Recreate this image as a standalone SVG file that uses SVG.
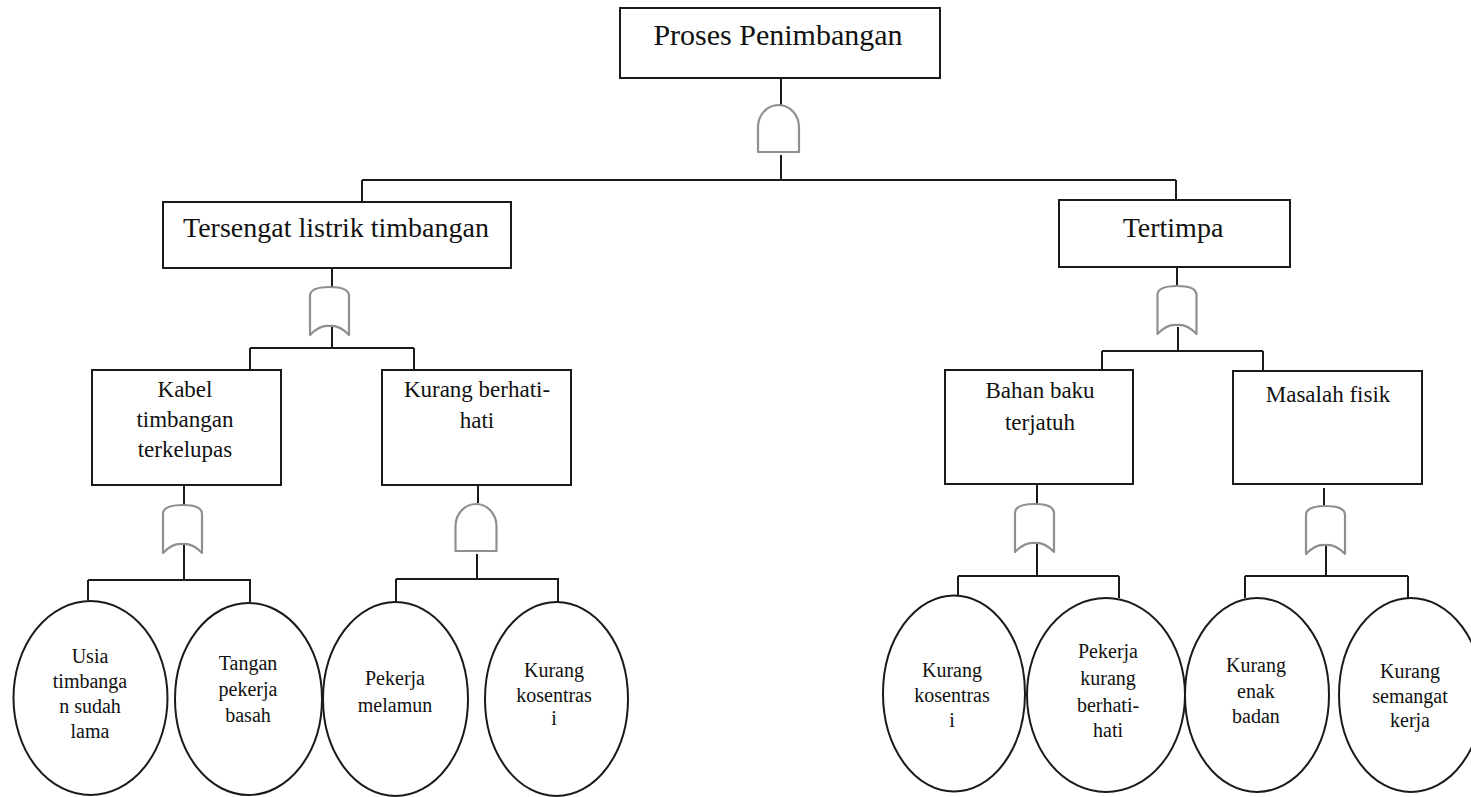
<svg xmlns="http://www.w3.org/2000/svg" width="1471" height="797" viewBox="0 0 1471 797">
<style>
.box{fill:#fff;stroke:#1a1a1a;stroke-width:2}
.ell{fill:#fff;stroke:#1a1a1a;stroke-width:2}
.gate{fill:#fff;stroke:#8f8f8f;stroke-width:2.2;stroke-linejoin:round}
.con{fill:none;stroke:#1a1a1a;stroke-width:2}
text{font-family:"Liberation Serif","Times New Roman",serif;fill:#111;text-anchor:middle}
.t1{font-size:30px}
.t2{font-size:28px}
.t3{font-size:23px}
.t4{font-size:20px}
</style>
<defs>
<path id="andg" d="M-20.5,25 L-20.5,0 A20.5,22 0 0 1 20.5,0 L20.5,25 Z"/>
<path id="org" d="M-19.5,24 L-19.5,-15 Q-19.5,-24 0,-24 Q19.5,-24 19.5,-15 L19.5,24 Q10,14 0,15 Q-10,14 -19.5,24 Z"/>
</defs>
<rect width="1471" height="797" fill="#fff"/>

<g id="connectors">
<path class="con" d="M781,78 V105 M781,155 V180 M362,180 H1176 M362,180 V202 M1176,180 V200"/>
<path class="con" d="M332,268 V287 M332,327 V348 M250,348 H414 M250,348 V370 M414,348 V370"/>
<path class="con" d="M1177,267 V287 M1178,327 V351 M1102,351 H1263 M1102,351 V370 M1263,351 V371"/>
<path class="con" d="M184,485 V505 M184,545 V580 M88,580 H251 M88,580 V600 M250,580 V602"/>
<path class="con" d="M478,485 V503 M477,554 V579 M396,579 H559 M396,579 V601 M558,579 V602"/>
<path class="con" d="M1037,484 V506 M1037,543 V576 M958,576 H1119 M958,576 V595 M1119,576 V598"/>
<path class="con" d="M1324,488 V508 M1326,546 V576 M1245,576 H1408 M1245,576 V598 M1408,576 V598"/>
</g>

<g id="gates">
<use href="#andg" class="gate" transform="translate(778.5,127)"/>
<use href="#org" class="gate" transform="translate(329.5,311)"/>
<use href="#org" class="gate" transform="translate(1177,310)"/>
<use href="#org" class="gate" transform="translate(182.5,529)"/>
<use href="#andg" class="gate" transform="translate(476,526)"/>
<use href="#org" class="gate" transform="translate(1034.5,528)"/>
<use href="#org" class="gate" transform="translate(1325.5,530)"/>
</g>

<g id="n-proses">
<rect class="box" x="620" y="8" width="320" height="70"/>
<text class="t1" x="778" y="45">Proses Penimbangan</text>
</g>
<g id="n-tersengat">
<rect class="box" x="163" y="202" width="348" height="66"/>
<text class="t2" x="336" y="237">Tersengat listrik timbangan</text>
</g>
<g id="n-tertimpa">
<rect class="box" x="1059" y="200" width="231" height="67"/>
<text class="t2" x="1173" y="237">Tertimpa</text>
</g>
<g id="n-kabel">
<rect class="box" x="92" y="370" width="189" height="115"/>
<text class="t3" x="185" y="397">Kabel</text>
<text class="t3" x="185" y="427">timbangan</text>
<text class="t3" x="185" y="457">terkelupas</text>
</g>
<g id="n-kurang-berhati">
<rect class="box" x="382" y="370" width="189" height="115"/>
<text class="t3" x="477" y="397">Kurang berhati-</text>
<text class="t3" x="477" y="428">hati</text>
</g>
<g id="n-bahan">
<rect class="box" x="945" y="370" width="188" height="114"/>
<text class="t3" x="1040" y="398">Bahan baku</text>
<text class="t3" x="1040" y="430">terjatuh</text>
</g>
<g id="n-masalah">
<rect class="box" x="1233" y="371" width="189" height="113"/>
<text class="t3" x="1328" y="402">Masalah fisik</text>
</g>

<g id="e-usia">
<ellipse class="ell" cx="90.5" cy="698" rx="77" ry="97"/>
<text class="t4" x="90" y="663">Usia</text>
<text class="t4" x="90" y="688">timbanga</text>
<text class="t4" x="90" y="713">n sudah</text>
<text class="t4" x="90" y="738">lama</text>
</g>
<g id="e-tangan">
<ellipse class="ell" cx="248.5" cy="699" rx="73.5" ry="96"/>
<text class="t4" x="248" y="670">Tangan</text>
<text class="t4" x="248" y="696">pekerja</text>
<text class="t4" x="248" y="722">basah</text>
</g>
<g id="e-melamun">
<ellipse class="ell" cx="395.5" cy="699" rx="72.5" ry="97"/>
<text class="t4" x="395" y="685">Pekerja</text>
<text class="t4" x="395" y="712">melamun</text>
</g>
<g id="e-kosentrasi-1">
<ellipse class="ell" cx="556.5" cy="699" rx="71.5" ry="97"/>
<text class="t4" x="554" y="677">Kurang</text>
<text class="t4" x="554" y="702">kosentras</text>
<text class="t4" x="554" y="725">i</text>
</g>
<g id="e-kosentrasi-2">
<ellipse class="ell" cx="954" cy="693.5" rx="71" ry="98"/>
<text class="t4" x="952" y="677">Kurang</text>
<text class="t4" x="952" y="702">kosentras</text>
<text class="t4" x="952" y="727">i</text>
</g>
<g id="e-berhati">
<ellipse class="ell" cx="1106" cy="695" rx="79" ry="97"/>
<text class="t4" x="1108" y="658">Pekerja</text>
<text class="t4" x="1108" y="685">kurang</text>
<text class="t4" x="1108" y="712">berhati-</text>
<text class="t4" x="1108" y="737">hati</text>
</g>
<g id="e-enak">
<ellipse class="ell" cx="1257" cy="695" rx="72" ry="97"/>
<text class="t4" x="1256" y="672">Kurang</text>
<text class="t4" x="1256" y="698">enak</text>
<text class="t4" x="1256" y="723">badan</text>
</g>
<g id="e-semangat">
<ellipse class="ell" cx="1411" cy="695" rx="72" ry="97"/>
<text class="t4" x="1410" y="678">Kurang</text>
<text class="t4" x="1410" y="703">semangat</text>
<text class="t4" x="1410" y="727">kerja</text>
</g>
</svg>
